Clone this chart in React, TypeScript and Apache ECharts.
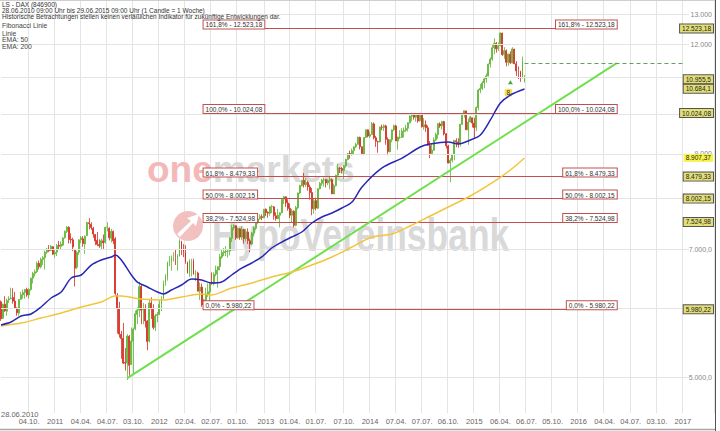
import React, { useEffect, useRef } from 'react';
import * as echarts from 'echarts';

const FONT = '"Liberation Sans", Arial, sans-serif';
const START = Date.UTC(2010, 5, 28);
const WEEK = 7 * 86400000;
const WEEK_COUNT = 356;

// x-axis tick dates (quarter starts)
const xTickDates = [
  '2010-10-04', '2011-01-03', '2011-04-04', '2011-07-04', '2011-10-03',
  '2012-01-02', '2012-04-02', '2012-07-02', '2012-10-01', '2013-01-07',
  '2013-04-01', '2013-07-01', '2013-10-07', '2014-01-06', '2014-04-07',
  '2014-07-07', '2014-10-06', '2015-01-05', '2015-04-06', '2015-07-06',
  '2015-10-05', '2016-01-04', '2016-04-04', '2016-07-04', '2016-10-03',
  '2017-01-02',
];

// weekly candles [open, close, low, high] from 28.06.2010 to 29.06.2015
const candles2010 = [
  [6100, 5834, 5800, 6120], [5840, 6060, 5830, 6070], [6060, 5955, 5940, 6190], [5950, 6120, 5880, 6150],
  [6130, 6148, 6080, 6190], [6150, 6160, 6140, 6330], [6170, 6110, 6070, 6320], [6110, 6005, 5990, 6260],
  [6000, 5925, 5880, 6010], [5920, 6135, 5880, 6140], [6140, 6215, 6130, 6260], [6210, 6250, 6150, 6300],
  [6250, 6300, 6150, 6310], [6300, 6210, 6180, 6330], [6210, 6300, 6150, 6320], [6300, 6490, 6280, 6500],
  [6490, 6570, 6400, 6600], [6570, 6600, 6520, 6640], [6600, 6750, 6580, 6780], [6750, 6690, 6640, 6800],
  [6690, 6820, 6660, 6850], [6820, 6850, 6720, 6880], [6850, 6950, 6640, 6980], [6950, 7005, 6920, 7030],
  [7000, 6980, 6950, 7080], [6980, 7060, 6970, 7080], [7050, 6914, 6900, 7060],
];
const candles2011 = [
  [6920, 6948, 6850, 7000], [6950, 7075, 6880, 7100], [7080, 7060, 7000, 7160], [7060, 7100, 7000, 7150],
  [7080, 7216, 7060, 7230], [7220, 7340, 7200, 7360], [7340, 7426, 7310, 7440], [7420, 7185, 7110, 7440],
  [7190, 7178, 7110, 7300], [7180, 7044, 6970, 7220], [7000, 6664, 6350, 7010], [6680, 6946, 6650, 6970],
  [6950, 7179, 6900, 7190], [7180, 7217, 7120, 7250], [7200, 7110, 7050, 7250], [7100, 7250, 6920, 7260],
  [7260, 7514, 7250, 7530], [7510, 7492, 7380, 7600], [7480, 7416, 7370, 7520], [7400, 7290, 7220, 7430],
  [7280, 7160, 7080, 7290], [7170, 7095, 7060, 7330], [7090, 7069, 7030, 7190], [7060, 7164, 7000, 7200],
  [7160, 7122, 7010, 7280], [7130, 7419, 7110, 7430], [7420, 7420, 7340, 7520], [7400, 7220, 7170, 7420],
  [7210, 7345, 7130, 7390], [7340, 7160, 7100, 7360], [7200, 6236, 6200, 7230], [6200, 5998, 5610, 6240],
  [6000, 5602, 5550, 6100], [5600, 5537, 5250, 5650], [5540, 5190, 5180, 5770], [5200, 5190, 5090, 5400],
  [5190, 5574, 4965, 5600], [5570, 5160, 5000, 5590], [5170, 5502, 5170, 5700], [5500, 5675, 5050, 5700],
  [5680, 5911, 5660, 5960], [5900, 5970, 5750, 6010], [5970, 6346, 5860, 6430], [6350, 5966, 5750, 6380],
  [5970, 5986, 5750, 6080], [5990, 5800, 5700, 6060], [5800, 5493, 5370, 5810], [5500, 6080, 5480, 6150],
  [6080, 5986, 5830, 6170], [5980, 5702, 5670, 6060], [5700, 5878, 5650, 5910], [5880, 5898, 5780, 5940],
];
const candles2012 = [
  [5900, 6057, 5890, 6120], [6060, 6143, 5950, 6190], [6150, 6404, 6140, 6450], [6400, 6511, 6360, 6560],
  [6510, 6766, 6450, 6780], [6760, 6790, 6700, 6880], [6790, 6848, 6620, 6890], [6850, 6864, 6780, 6950],
  [6860, 6856, 6720, 6990], [6850, 6880, 6620, 6910], [6880, 7157, 6870, 7190], [7150, 6995, 6900, 7160],
  [6990, 6947, 6860, 7100], [6950, 6775, 6740, 7080], [6760, 6583, 6570, 6780], [6580, 6801, 6510, 6820],
  [6800, 6801, 6520, 6830], [6800, 6561, 6550, 6830], [6560, 6579, 6440, 6630], [6580, 6271, 6270, 6600],
  [6270, 6340, 6130, 6420], [6340, 6050, 6020, 6400], [6040, 6130, 5980, 6150], [6130, 6230, 6080, 6330],
  [6230, 6263, 6180, 6400], [6260, 6416, 6100, 6430], [6420, 6410, 6380, 6590], [6400, 6558, 6370, 6590],
  [6560, 6630, 6520, 6710], [6630, 6690, 6330, 6700], [6690, 6865, 6630, 6920], [6860, 6945, 6830, 6990],
  [6940, 6960, 6880, 7030], [6960, 6970, 6880, 7060], [6970, 6970, 6850, 7000], [6970, 7214, 6890, 7230],
  [7210, 7412, 7140, 7470], [7410, 7451, 7360, 7480], [7450, 7216, 7180, 7460], [7220, 7397, 7200, 7420],
  [7390, 7233, 7180, 7400], [7230, 7380, 7180, 7440], [7380, 7203, 7110, 7390], [7200, 7335, 7150, 7390],
  [7330, 7163, 7100, 7400], [7160, 7101, 6950, 7200], [7100, 7309, 7080, 7330], [7310, 7405, 7250, 7440],
  [7400, 7518, 7370, 7560], [7520, 7585, 7480, 7610], [7590, 7636, 7570, 7680], [7630, 7612, 7560, 7680],
  [7610, 7776, 7600, 7790],
];
const candles2013 = [
  [7780, 7715, 7640, 7800], [7720, 7702, 7610, 7740], [7700, 7830, 7650, 7850], [7830, 7833, 7700, 7870],
  [7830, 7652, 7570, 7850], [7650, 7593, 7550, 7720], [7590, 7661, 7580, 7790], [7660, 7708, 7420, 7720],
  [7710, 7986, 7700, 8000], [7990, 8043, 7890, 8060], [8040, 7913, 7830, 8000], [7910, 7795, 7750, 7990],
  [7800, 7659, 7600, 7900], [7660, 7745, 7520, 7790], [7740, 7459, 7420, 7760], [7460, 7815, 7440, 7850],
  [7810, 8122, 7780, 8130], [8120, 8283, 8100, 8300], [8280, 8399, 8260, 8400], [8400, 8305, 8240, 8560],
  [8300, 8349, 8250, 8450], [8350, 8254, 8170, 8390], [8250, 8127, 7980, 8300], [8130, 7790, 7660, 8230],
  [7790, 7959, 7690, 8000], [7960, 7806, 7760, 8020], [7800, 8212, 7790, 8230], [8210, 8331, 8200, 8360],
  [8330, 8403, 8280, 8430], [8400, 8410, 8260, 8460], [8410, 8338, 8240, 8430], [8340, 8391, 8290, 8420],
  [8390, 8416, 8200, 8470], [8410, 8103, 8100, 8440], [8100, 8276, 8130, 8320], [8280, 8509, 8260, 8520],
  [8510, 8675, 8480, 8770], [8670, 8661, 8560, 8690], [8660, 8622, 8550, 8700], [8620, 8725, 8420, 8740],
  [8720, 8870, 8680, 8890], [8870, 9010, 8850, 9020], [9010, 9001, 8890, 9080], [9000, 9078, 8960, 9130],
  [9080, 9168, 9000, 9190], [9170, 9225, 9140, 9270], [9230, 9405, 9220, 9420], [9400, 9172, 9110, 9420],
  [9170, 9006, 8990, 9180], [9000, 9400, 8970, 9410], [9400, 9589, 9390, 9600], [9590, 9435, 9400, 9600],
];
const candles2014 = [
  [9430, 9473, 9380, 9550], [9470, 9743, 9460, 9790], [9740, 9392, 9350, 9780], [9390, 9306, 9170, 9440],
  [9300, 9291, 9030, 9320], [9290, 9662, 9280, 9670], [9660, 9656, 9580, 9720], [9650, 9692, 9560, 9730],
  [9690, 9350, 9220, 9720], [9350, 9056, 8970, 9400], [9050, 9343, 9040, 9350], [9340, 9588, 9280, 9600],
  [9590, 9695, 9560, 9720], [9690, 9315, 9310, 9720], [9310, 9409, 9100, 9420], [9400, 9401, 9360, 9580],
  [9400, 9556, 9400, 9630], [9550, 9581, 9400, 9650], [9580, 9630, 9540, 9720], [9630, 9768, 9550, 9780],
  [9770, 9943, 9750, 9960], [9940, 9987, 9810, 10030], [9980, 9912, 9850, 10024], [9910, 9987, 9800, 10000],
  [9980, 9815, 9770, 10000], [9820, 10009, 9800, 10020], [10000, 9666, 9650, 10010], [9660, 9720, 9590, 9890],
  [9720, 9644, 9540, 9830], [9640, 9210, 9200, 9700], [9200, 9009, 8900, 9310], [9010, 9092, 9000, 9250],
  [9090, 9339, 9080, 9400], [9340, 9470, 9310, 9520], [9470, 9747, 9370, 9760], [9740, 9691, 9640, 9780],
  [9690, 9799, 9600, 9820], [9800, 9490, 9450, 9820], [9490, 9195, 9130, 9510], [9190, 8788, 8780, 9220],
  [8790, 8850, 8355, 8900], [8850, 8988, 8800, 9000], [8990, 9326, 8850, 9330], [9320, 9291, 9160, 9380],
  [9290, 9252, 9150, 9380], [9250, 9733, 9180, 9740], [9730, 9980, 9720, 9990], [9980, 10087, 9900, 10090],
  [10080, 9594, 9580, 10080], [9590, 9787, 9220, 9880], [9790, 9922, 9780, 9950], [9900, 9764, 9650, 9900],
];
const candles2015 = [
  [9760, 9648, 9380, 9900], [9650, 10168, 9560, 10200], [10170, 10649, 10100, 10680], [10650, 10694, 10560, 10820],
  [10690, 10846, 10650, 10900], [10850, 10963, 10700, 11000], [10960, 11050, 10860, 11120], [11050, 11401, 11040, 11420],
  [11400, 11551, 11300, 11600], [11550, 11901, 11500, 12000], [11900, 12039, 11700, 12200], [12040, 11868, 11750, 12080],
  [11870, 11967, 11800, 12070], [11970, 12375, 11950, 12390], [12370, 11689, 11650, 12380], [11690, 11811, 11560, 11920],
  [11810, 11454, 11330, 11850], [11450, 11709, 11350, 11720], [11700, 11447, 11400, 11790], [11440, 11865, 11420, 11920],
  [11860, 11413, 11400, 11870], [11410, 11197, 11050, 11490], [11200, 11196, 10960, 11330], [11190, 10985, 10880, 11200],
  [10990, 11492, 10980, 11630], [10890, 10955, 10860, 11080],
];

// EMA readings [week index, value]
const ema50: [number, number][] = [
  [0, 5738], [5, 5783], [10, 5875], [15, 5907], [20, 6017], [25, 6161], [30, 6258], [35, 6494],
  [40, 6545], [45, 6719], [50, 6809], [55, 6863], [57, 6899], [60, 6809], [65, 6545], [68, 6425],
  [73, 6341], [78, 6258], [81, 6226], [85, 6292], [90, 6375], [95, 6477], [100, 6460], [105, 6409],
  [110, 6425], [115, 6545], [120, 6666], [125, 6755], [130, 6863], [135, 7027], [140, 7138], [145, 7233],
  [150, 7329], [155, 7505], [160, 7625], [165, 7705], [170, 7807], [175, 7931], [180, 8251], [190, 8674],
  [200, 8904], [209, 9166], [214, 9239], [223, 9288], [228, 9239], [234, 9336], [239, 9461], [244, 9842],
  [249, 10291], [254, 10510], [261, 10677],
];
const ema200: [number, number][] = [
  [0, 5723], [10, 5768], [20, 5844], [30, 5922], [40, 6017], [50, 6097], [57, 6193], [60, 6193],
  [70, 6144], [80, 6128], [90, 6177], [100, 6226], [105, 6210], [115, 6325], [125, 6409], [135, 6511],
  [145, 6597], [155, 6719], [165, 6863], [175, 7045], [185, 7233], [195, 7291], [204, 7446], [214, 7645],
  [224, 7848], [234, 8057], [244, 8316], [254, 8628], [261, 8904],
];

// horizontal grid levels; labels only where the reference shows them
const yGridValues = [5000, 6000, 7000, 8000, 9000, 10000, 11000, 12000, 13000];
const yGridLabels = ['5.000,0', '', '7.000,0', '', '9.000', '10.000', '', '12.000', '13.000'];

const fibPercents = ['161,8%', '100,0%', '61,8%', '50,0%', '38,2%', '0,0%'];
const fibValues = [12523.18, 10024.08, 8479.33, 8002.15, 7524.98, 5980.22];
const fibStartWeek = 101;
const fibEndWeek = 307;

const trendStart: [number, number] = [63, 4990];
const trendEnd: [number, number] = [307, 11430];
const dashedLevel = 11430;
const dashedEndWeek = 341;

const lastPrice = 10955.5;
const ema50Last = 10684.1;
const ema200Last = 8907.37;
const signalTriangle: [number, number] = [254, 10867];
const signalBox: [number, number] = [253, 10574];

const headerLines = [
  'LS - DAX (846900)',
  '28.06.2010 09:00 Uhr bis 29.06.2015 09:00 Uhr (1 Candle = 1 Woche)',
  'Historische Betrachtungen stellen keinen verläßlichen Indikator für zukünftige Entwicklungen dar.',
];
const legendLines = ['Fibonacci Linie', 'Linie', 'EMA: 50', 'EMA: 200'];

const candles = [...candles2010, ...candles2011, ...candles2012, ...candles2013, ...candles2014, ...candles2015];

function pad(n: number) {
  return n < 10 ? '0' + n : '' + n;
}
function fmtDE(v: number, dec: number) {
  const parts = v.toFixed(dec).split('.');
  const intPart = parts[0].replace(/\B(?=(\d{3})+(?!\d))/g, '.');
  return parts[1] ? intPart + ',' + parts[1] : intPart;
}

const weeks: string[] = Array.from({ length: WEEK_COUNT }, (_, i) => {
  const d = new Date(START + i * WEEK);
  return `${d.getUTCFullYear()}-${pad(d.getUTCMonth() + 1)}-${pad(d.getUTCDate())}`;
});
const tickLabelMap: Record<number, string> = {};
xTickDates.forEach((s) => {
  const idx = Math.round((Date.parse(s + 'T00:00:00Z') - START) / WEEK);
  const [y, m, d] = s.split('-');
  tickLabelMap[idx] = m === '01' ? y : `${d}.${m}.`;
});

const RED = '#c0504d';
const BOX_FILL = '#e3df78';

export default function App() {
  const ref = useRef<HTMLDivElement>(null);
  useEffect(() => {
    if (!ref.current) return;
    const chart = echarts.init(ref.current, undefined, { renderer: 'svg' });
    const lastIdx = WEEK_COUNT - 1;

    const fibLineData: any[] = [];
    fibValues.forEach((v, k) => {
      const text = `${fibPercents[k]} - ${fmtDE(v, 2)}`;
      const lbl = {
        show: true, formatter: text, fontSize: 6.5, fontFamily: FONT, color: '#333',
        backgroundColor: '#fff', borderColor: RED, borderWidth: 1, padding: [1, 2, 0, 2], distance: 0,
      };
      fibLineData.push([
        { coord: [fibStartWeek, v], label: { ...lbl, position: 'insideStartTop' } },
        { coord: [fibEndWeek, v] },
      ]);
      fibLineData.push([
        { coord: [fibStartWeek, v], label: { ...lbl, position: 'insideEndTop' } },
        { coord: [fibEndWeek, v] },
      ]);
    });

    const priceBox = (v: number, dec: number, fill: string, border: boolean) => ({
      coord: [lastIdx, v],
      label: {
        show: true, position: 'left', distance: 0, formatter: fmtDE(v, dec),
        fontSize: 6.5, fontFamily: FONT, color: '#222', backgroundColor: fill,
        borderColor: border ? '#555' : 'transparent', borderWidth: border ? 1 : 0, padding: [1, 2, 0, 2],
      },
    });

    chart.setOption({
      animation: false,
      backgroundColor: '#ffffff',
      grid: { left: 0, right: 6, top: 1, bottom: 18 },
      xAxis: {
        type: 'category',
        data: weeks,
        boundaryGap: true,
        axisLine: { show: false },
        axisTick: { show: false },
        axisLabel: {
          interval: (i: number) => tickLabelMap[i] !== undefined,
          formatter: (_v: string, i: number) => tickLabelMap[i] ?? '',
          fontSize: 7.5, fontFamily: FONT, color: '#666', margin: 4,
        },
        splitLine: {
          show: true,
          interval: (i: number) => tickLabelMap[i] !== undefined,
          lineStyle: { color: '#e4e4e4', width: 1 },
        },
      },
      yAxis: {
        type: 'log', min: 4552, max: 13460, position: 'right',
        axisLine: { show: false }, axisTick: { show: false }, axisLabel: { show: false }, splitLine: { show: false },
      },
      graphic: [
        ...headerLines.map((t, k) => ({
          type: 'text', x: 2, y: [4, 10.5, 16.3][k], z: 50,
          style: { text: t, fontSize: 6.5, fontFamily: FONT, fill: '#333', verticalAlign: 'middle' },
        })),
        ...legendLines.map((t, k) => ({
          type: 'text', x: 2, y: [25.3, 33, 39.5, 46.7][k], z: 50,
          style: { text: t, fontSize: 6.8, fontFamily: FONT, fill: '#444', verticalAlign: 'middle' },
        })),
        {
          type: 'text', x: 1, y: 414, z: 50,
          style: { text: weeks[0].split('-').reverse().join('.'), fontSize: 7.5, fontFamily: FONT, fill: '#666', verticalAlign: 'middle' },
        },
        {
          type: 'text', x: 147, y: 188, z: 1,
          style: {
            text: '{a|one}{b|markets}', verticalAlign: 'bottom',
            rich: {
              a: { fontSize: 37, fontWeight: 'bold', fontFamily: FONT, fill: '#f4b8b8' },
              b: { fontSize: 37, fontWeight: 'bold', fontFamily: FONT, fill: '#d9d9d9' },
            },
          },
        },
        {
          type: 'text', x: 212, y: 258, z: 1, scaleX: 0.77,
          style: { text: 'HypoVereinsbank', fontSize: 46, fontWeight: 'bold', fontFamily: FONT, fill: '#d9d9d9', verticalAlign: 'bottom' },
        },
        { type: 'circle', z: 1, shape: { cx: 188, cy: 226, r: 15 }, style: { fill: '#f3c0c0' } },
        {
          type: 'polygon', z: 1,
          shape: { points: [[177, 234], [191, 221], [187, 218], [199, 214], [196, 226], [193, 223], [180, 237]] },
          style: { fill: '#ffffff' },
        },
        { type: 'line', z: 60, shape: { x1: 0, y1: 0.5, x2: 716, y2: 0.5 }, style: { stroke: '#cfcfcf', lineWidth: 1 } },
        { type: 'line', z: 60, shape: { x1: 0, y1: 429.5, x2: 716, y2: 429.5 }, style: { stroke: '#a8a8a8', lineWidth: 1.5 } },
        { type: 'line', z: 60, shape: { x1: 715.5, y1: 0, x2: 715.5, y2: 431 }, style: { stroke: '#555', lineWidth: 1 } },
      ],
      series: [
        {
          name: 'grid', type: 'line', data: [], z: 0, silent: true,
          markLine: {
            silent: true, symbol: ['none', 'none'], animation: false,
            lineStyle: { color: '#e4e4e4', type: 'solid', width: 1 },
            label: { show: false },
            data: yGridValues.map((v) => [{ coord: [0, v] }, { coord: [343, v] }]),
          },
          markPoint: {
            silent: true, symbol: 'rect', symbolSize: 0, animation: false,
            data: yGridValues
              .map((v, k) => ({
                coord: [lastIdx, v],
                label: { show: true, position: 'left', distance: 1, formatter: yGridLabels[k], fontSize: 7, fontFamily: FONT, color: '#888' },
              }))
              .filter((_d, k) => yGridLabels[k] !== ''),
          },
        },
        {
          name: 'fib', type: 'line', data: [], z: 3, silent: true,
          markLine: {
            silent: true, symbol: ['none', 'none'], animation: false,
            lineStyle: { color: RED, type: 'solid', width: 1 },
            data: fibLineData,
          },
        },
        {
          name: 'trend', type: 'line', data: [], z: 3, silent: true,
          markLine: {
            silent: true, symbol: ['none', 'none'], animation: false, label: { show: false },
            data: [
              [{ coord: trendStart, lineStyle: { color: '#6ee04c', width: 2, type: 'solid' } }, { coord: trendEnd }],
              [{ coord: [candles.length - 1, dashedLevel], lineStyle: { color: '#6a9a6a', width: 1, type: [4, 3] } }, { coord: [dashedEndWeek, dashedLevel] }],
            ],
          },
        },
        {
          name: 'DAX', type: 'candlestick', z: 4, barWidth: 1.4,
          data: candles,
          itemStyle: { color: '#5cb531', color0: '#d42b1e', borderColor: '#5cb531', borderColor0: '#d42b1e', borderWidth: 0.8 },
        },
        {
          name: 'EMA 200', type: 'line', z: 5, data: ema200, smooth: 0.3, showSymbol: false,
          lineStyle: { color: '#f2c53a', width: 1.5 },
        },
        {
          name: 'EMA 50', type: 'line', z: 5, data: ema50, smooth: 0.3, showSymbol: false,
          lineStyle: { color: '#2828b4', width: 1.5 },
        },
        {
          name: 'boxes', type: 'line', data: [], z: 10, silent: true,
          markPoint: {
            silent: true, symbol: 'rect', symbolSize: 0, animation: false,
            data: [
              ...fibValues.map((v) => priceBox(v, 2, BOX_FILL, true)),
              priceBox(lastPrice, 1, BOX_FILL, true),
              priceBox(ema50Last, 1, BOX_FILL, true),
              priceBox(ema200Last, 2, '#f7f34a', false),
              {
                coord: signalTriangle, symbol: 'triangle', symbolSize: [5, 4],
                itemStyle: { color: '#4aa83a' }, label: { show: false },
              },
              {
                coord: signalBox, symbol: 'rect', symbolSize: 0,
                label: {
                  show: true, position: 'inside', formatter: '8', fontSize: 6.5, fontFamily: FONT, color: '#333',
                  backgroundColor: '#f3e25a', borderRadius: 2, padding: [1, 2, 0, 2],
                },
              },
            ],
          },
        },
      ],
    });
    return () => chart.dispose();
  }, []);
  return <div ref={ref} style={{ width: 720, height: 431, position: 'absolute', left: 0, top: 0 }} />;
}
